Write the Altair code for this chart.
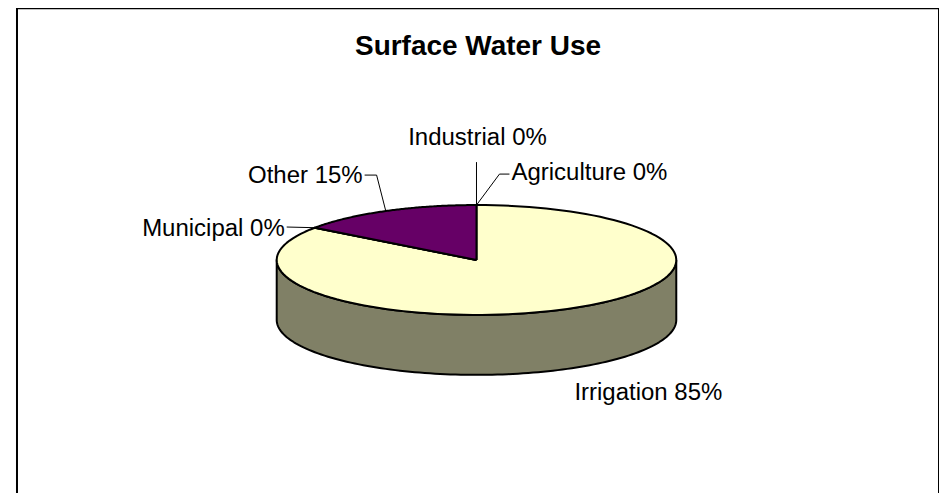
import altair as alt
import pandas as pd

# ---- data (workbook order) ----
categories = ["Agriculture", "Industrial", "Irrigation", "Municipal", "Other"]
values = [0, 0, 85, 0, 15]

# ---- styles ----
top_colors = ["#9999FF", "#993366", "#FFFFCC", "#CCFFFF", "#660066"]
side_colors = ["#4C4C80", "#4C1933", "#808066", "#668080", "#330033"]

# ---- label layout (pixel offsets from the pie centre) ----
label_dx = [35, 1, 98, -192, -114]
label_dy = [-80, -115, 140, -24, -77]
label_align = ["left", "center", "left", "right", "right"]
leader_end_dx = [33, 0, 0, -190, -112]
leader_end_dy = [-86, -98, 0, -33, -85]
leader_elbow_dx = [23, 0, 0, -190, -100]
leader_elbow_dy = [-86, -98, 0, -33, -85]
has_leader = [True, True, False, True, True]

# ---- geometry ----
W, H = 923, 490
CX, CY = 460, 252
RX, RY, DEPTH = 200, 55, 60
N = 120
FONT = "Liberation Sans"

df = pd.DataFrame({
    "category": categories,
    "value": values,
    "order": list(range(len(categories))),
    "label_dx": label_dx,
    "label_dy": label_dy,
    "label_align": label_align,
    "end_dx": leader_end_dx,
    "end_dy": leader_end_dy,
    "elbow_dx": leader_elbow_dx,
    "elbow_dy": leader_elbow_dy,
    "has_leader": has_leader,
})

xs = alt.Scale(domain=[0, W], nice=False, zero=False)
ys = alt.Scale(domain=[0, H], nice=False, zero=False, reverse=True)
X = alt.X("px:Q", scale=xs, axis=None)
Y = alt.Y("py:Q", scale=ys, axis=None)


def base():
    return (
        alt.Chart(df)
        .transform_window(cum="sum(value)", sort=[alt.SortField("order")])
        .transform_joinaggregate(total="sum(value)")
        .transform_calculate(
            a0="2*PI*(datum.cum - datum.value)/datum.total",
            a1="2*PI*datum.cum/datum.total",
        )
    )


# side wall (front half of the disc) as a closed polygon:
# along the top rim, then back along the bottom rim
side = (
    base()
    .transform_filter("datum.a1 > PI/2 && datum.a0 < 3*PI/2")
    .transform_calculate(
        b0="max(datum.a0, PI/2)",
        b1="min(datum.a1, 3*PI/2)",
        k=f"sequence(0, {2 * N + 3})",
    )
    .transform_flatten(["k"])
    .transform_calculate(
        low=f"datum.k > {N} && datum.k <= {2 * N + 1}",
        s=f"datum.k <= {N} ? datum.k / {N} : datum.k <= {2 * N + 1} ? 1 - (datum.k - {N + 1}) / {N} : 0",
        th="datum.b0 + (datum.b1 - datum.b0) * datum.s",
        px=f"{CX} + {RX} * sin(datum.th)",
        py=f"{CY} - {RY} * cos(datum.th) + (datum.low ? {DEPTH} : 0)",
    )
    .mark_line(stroke="black", strokeWidth=2, strokeJoin="round")
    .encode(
        x=X,
        y=Y,
        fill=alt.Fill("category:N", scale=alt.Scale(domain=categories, range=side_colors), legend=None),
        order=alt.Order("k:Q"),
    )
)

# top face slices
top = (
    base()
    .transform_calculate(k=f"sequence(0, {N + 3})")
    .transform_flatten(["k"])
    .transform_calculate(
        t=f"clamp(datum.k - 1, 0, {N}) / {N}",
        th="datum.a0 + (datum.a1 - datum.a0) * datum.t",
        ctr=f"datum.k == 0 || datum.k == {N + 2}",
        px=f"datum.ctr ? {CX} : {CX} + {RX} * sin(datum.th)",
        py=f"datum.ctr ? {CY} : {CY} - {RY} * cos(datum.th)",
    )
    .mark_line(stroke="black", strokeWidth=2, strokeJoin="round")
    .encode(
        x=X,
        y=Y,
        fill=alt.Fill("category:N", scale=alt.Scale(domain=categories, range=top_colors), legend=None),
        order=alt.Order("k:Q"),
    )
)

# leader lines
leader = (
    base()
    .transform_filter("datum.has_leader")
    .transform_calculate(k="sequence(0, 3)")
    .transform_flatten(["k"])
    .transform_calculate(
        am="(datum.a0 + datum.a1) / 2",
        px=f"datum.k == 0 ? {CX} + {RX} * sin(datum.am) : datum.k == 1 ? {CX} + datum.elbow_dx : {CX} + datum.end_dx",
        py=f"datum.k == 0 ? {CY} - {RY} * cos(datum.am) : datum.k == 1 ? {CY} + datum.elbow_dy : {CY} + datum.end_dy",
    )
    .mark_line(stroke="black", strokeWidth=1)
    .encode(x=X, y=Y, detail="category:N", order=alt.Order("k:Q"))
)


def labels(align):
    return (
        base()
        .transform_filter(f"datum.label_align == '{align}'")
        .transform_calculate(
            text="datum.category + ' ' + format(datum.value / datum.total, '.0%')",
            px=f"{CX} + datum.label_dx",
            py=f"{CY} + datum.label_dy",
        )
        .mark_text(align=align, baseline="alphabetic", font=FONT, fontSize=24, color="black")
        .encode(x=X, y=Y, text="text:N")
    )


chart = (
    alt.layer(side, top, leader, labels("left"), labels("center"), labels("right"))
    .resolve_scale(fill="independent")
    .properties(
        width=W,
        height=H,
        padding={"left": 9, "top": 0, "right": 0, "bottom": 0},
        autosize=alt.AutoSizeParams(type="none"),
        title=alt.TitleParams(
            "Surface Water Use",
            font=FONT,
            fontSize=28,
            fontWeight="bold",
            color="black",
            anchor="middle",
            frame="group",
            baseline="alphabetic",
            offset=-75,
        ),
    )
    .configure(background="white")
    .configure_view(stroke="black", strokeWidth=2)
)

chart.save("out.html", embed_options={"renderer": "svg", "actions": False})
